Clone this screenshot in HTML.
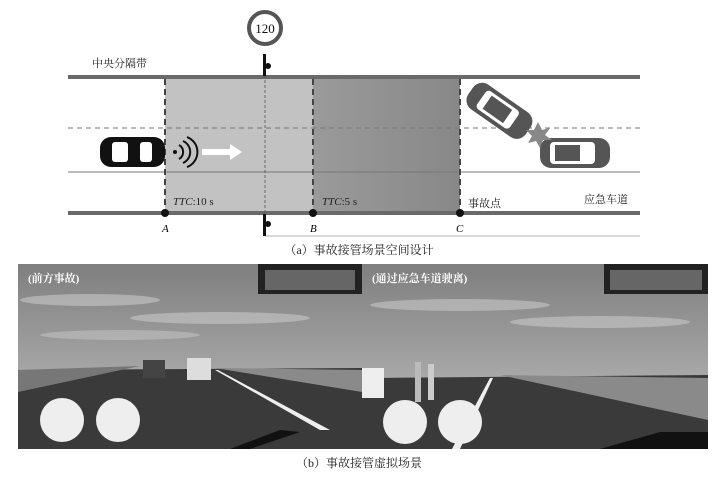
<!DOCTYPE html>
<html><head><meta charset="utf-8"><style>
body{margin:0;background:#fff;width:718px;height:472px;overflow:hidden}
svg text{font-family:"Liberation Serif","Noto Serif CJK SC",serif}
</style></head><body>
<svg width="718" height="472" viewBox="0 0 718 472" xmlns="http://www.w3.org/2000/svg">
<defs>
<linearGradient id="sky" x1="0" y1="0" x2="0" y2="1"><stop offset="0" stop-color="#7f7f7f"/><stop offset="0.5" stop-color="#a0a0a0"/><stop offset="1" stop-color="#c4c4c4"/></linearGradient>
<linearGradient id="dk" x1="0" y1="0" x2="1" y2="0"><stop offset="0" stop-color="#9a9a9a"/><stop offset="1" stop-color="#888"/></linearGradient>
</defs>
<rect x="165" y="78" width="148" height="135" fill="#c2c2c2"/>
<rect x="313" y="78" width="147" height="135" fill="url(#dk)"/>
<line x1="68" y1="128" x2="640" y2="128" stroke="#777" stroke-width="1" stroke-dasharray="5,4"/>
<line x1="68" y1="172" x2="640" y2="172" stroke="#777" stroke-width="1"/>
<rect x="68" y="75" width="572" height="4" fill="#6a6a6a"/>
<rect x="68" y="211" width="572" height="4" fill="#6a6a6a"/>
<g stroke="#444" stroke-width="2" stroke-dasharray="6,4">
<line x1="165" y1="79" x2="165" y2="213"/><line x1="313" y1="79" x2="313" y2="213"/><line x1="460" y1="79" x2="460" y2="213"/></g>
<line x1="265" y1="60" x2="265" y2="236" stroke="#555" stroke-width="0.8" stroke-dasharray="3,2"/>
<line x1="265" y1="236" x2="640" y2="236" stroke="#999" stroke-width="0.8"/>
<circle cx="265" cy="28" r="16" fill="#fff" stroke="#555" stroke-width="4"/>
<text x="265" y="33" font-size="13" text-anchor="middle" fill="#111">120</text>
<rect x="263" y="54" width="3" height="22" fill="#111"/><circle cx="268" cy="66" r="3" fill="#111"/>
<rect x="263" y="214" width="3" height="22" fill="#111"/><circle cx="268" cy="224" r="3" fill="#111"/>
<text x="92" y="67" font-size="11" fill="#222">中央分隔带</text>
<text x="584" y="203" font-size="11" fill="#222">应急车道</text>
<text x="468" y="207" font-size="11" fill="#222">事故点</text>
<text x="173" y="205" font-size="11" fill="#222"><tspan font-style="italic">TTC</tspan>:10 s</text>
<text x="322" y="205" font-size="11" fill="#222"><tspan font-style="italic">TTC</tspan>:5 s</text>
<circle cx="165" cy="213" r="4" fill="#111"/><circle cx="313" cy="213" r="4" fill="#111"/><circle cx="460" cy="213" r="4" fill="#111"/>
<text x="162" y="232" font-size="11" font-style="italic">A</text>
<text x="310" y="232" font-size="11" font-style="italic">B</text>
<text x="456" y="232" font-size="11" font-style="italic">C</text>
<rect x="100" y="137" width="65" height="30" rx="11" fill="#111"/>
<rect x="112" y="142" width="16" height="20" rx="3" fill="#fff"/>
<rect x="140" y="142" width="12" height="20" rx="3" fill="#fff"/>
<circle cx="175" cy="152" r="2" fill="#111"/>
<path d="M179 145 a8 8 0 0 1 0 14 M183 141 a12 12 0 0 1 0 22 M187 137 a16 16 0 0 1 0 30" stroke="#111" stroke-width="2" fill="none"/>
<path d="M202 149 h28 v-5 l12 8 l-12 8 v-5 h-28z" fill="#fff"/>
<g transform="rotate(35 500 110)"><rect x="465" y="96" width="70" height="30" rx="11" fill="#555"/><rect x="478" y="100" width="40" height="22" rx="4" fill="#fff"/><rect x="485" y="103" width="25" height="16" fill="#555"/></g>
<rect x="540" y="138" width="70" height="30" rx="11" fill="#555"/><rect x="550" y="142" width="45" height="22" rx="4" fill="#fff"/><rect x="555" y="145" width="25" height="16" fill="#555"/>
<polygon points="538,122 542,130 550,128 545,135 552,140 543,140 540,148 536,141 528,143 532,136 526,130 534,130" fill="#888"/>
<text x="359" y="254" font-size="12" text-anchor="middle" fill="#222">（a）事故接管场景空间设计</text>
<g>
<rect x="18" y="264" width="344" height="185" fill="url(#sky)"/>
<ellipse cx="90" cy="300" rx="70" ry="6" fill="#c8c8c8" opacity="0.6"/><ellipse cx="220" cy="318" rx="90" ry="6" fill="#c8c8c8" opacity="0.6"/><ellipse cx="120" cy="335" rx="80" ry="5" fill="#c8c8c8" opacity="0.5"/>
<polygon points="18,370 362,368 362,449 18,449" fill="#3a3a3a"/>
<polygon points="18,370 140,366 18,392" fill="#777"/>
<polygon points="215,368 362,370 362,392" fill="#8a8a8a"/>
<polygon points="215,370 218,370 330,430 320,430" fill="#eee"/>
<rect x="143" y="360" width="22" height="18" fill="#444"/><rect x="187" y="358" width="24" height="22" fill="#ddd"/>
<rect x="258" y="264" width="104" height="30" fill="#222"/><rect x="265" y="270" width="90" height="20" fill="#666"/>
<circle cx="62" cy="420" r="22" fill="#eee"/><circle cx="118" cy="420" r="22" fill="#eee"/>
<polygon points="230,449 280,430 300,432 250,449" fill="#111"/>
<text x="28" y="282" font-size="11" fill="#fff" font-weight="bold" font-family="Liberation Sans,Noto Sans CJK SC,sans-serif">(前方事故)</text>
</g>
<g>
<rect x="362" y="264" width="346" height="185" fill="url(#sky)"/>
<ellipse cx="460" cy="305" rx="90" ry="6" fill="#c8c8c8" opacity="0.6"/><ellipse cx="600" cy="322" rx="90" ry="6" fill="#c8c8c8" opacity="0.6"/>
<polygon points="362,378 708,375 708,449 362,449" fill="#3a3a3a"/>
<polygon points="500,375 708,378 708,420" fill="#8a8a8a"/>
<rect x="362" y="368" width="22" height="30" fill="#eee"/>
<rect x="415" y="362" width="6" height="40" fill="#bbb"/><rect x="428" y="364" width="6" height="36" fill="#ccc"/>
<polygon points="490,378 493,378 460,449 452,449" fill="#eee"/>
<rect x="604" y="264" width="104" height="30" fill="#222"/><rect x="610" y="270" width="92" height="20" fill="#666"/>
<circle cx="405" cy="422" r="22" fill="#eee"/><circle cx="460" cy="422" r="22" fill="#eee"/>
<polygon points="600,449 660,432 708,432 708,449" fill="#111"/>
<text x="372" y="282" font-size="11" fill="#fff" font-weight="bold" font-family="Liberation Sans,Noto Sans CJK SC,sans-serif">(通过应急车道驶离)</text>
</g>
<text x="359" y="467" font-size="12" text-anchor="middle" fill="#222">（b）事故接管虚拟场景</text>
</svg>
</body></html>
